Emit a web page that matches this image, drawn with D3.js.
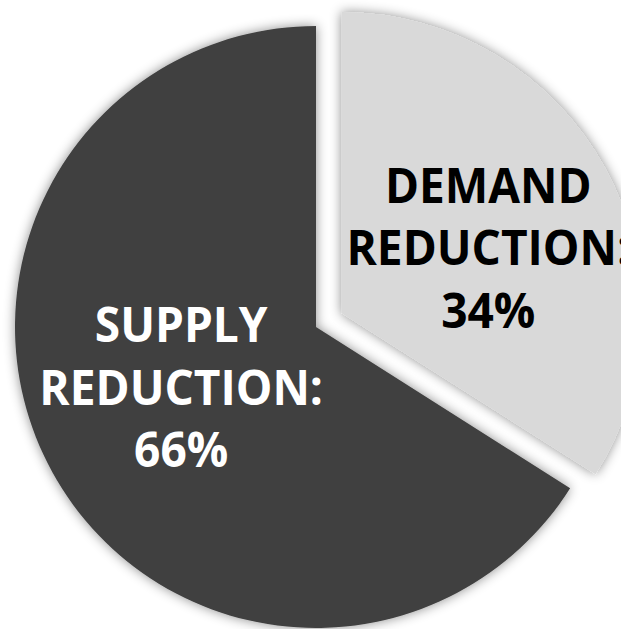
<!DOCTYPE html>
<html>
<head>
<meta charset="utf-8">
<script src="https://cdn.jsdelivr.net/npm/d3@7"></script>
<style>
  body { margin: 0; background: #fff; }
  text { font-family: "Open Sans", sans-serif; font-weight: bold; }
</style>
</head>
<body>
<div class="chart"></div>
<script>
// data
var categories = ["DEMAND REDUCTION:", "SUPPLY REDUCTION:"];
var shares = [34, 66];
var labelLines = [["DEMAND", "REDUCTION:", "34%"], ["SUPPLY", "REDUCTION:", "66%"]];

var width = 621, height = 629;
var cx = 316, cy = 327, radius = 301;
var explode = 29;

var svg = d3.select(".chart")
  .append("svg")
  .attr("width", width)
  .attr("height", height);

// soft outer shadow like the office one
var defs = svg.append("defs");
var f = defs.append("filter").attr("id", "shadow")
  .attr("x", "-20%").attr("y", "-20%").attr("width", "140%").attr("height", "140%");
f.append("feDropShadow")
  .attr("dx", 0).attr("dy", 0)
  .attr("stdDeviation", 6)
  .attr("flood-color", "#000")
  .attr("flood-opacity", 0.45);

var pie = d3.pie().sort(null).value(function(d) { return d; });
var arcs = pie(shares);

var arc = d3.arc().innerRadius(0).outerRadius(radius);
var labelArc = d3.arc().innerRadius(155).outerRadius(155);

var colors = ["#d9d9d9", "#404040"];
var textColors = ["#000", "#fff"];
var exploded = [true, false];
// small label nudges, excel doesn't put them exactly on the bisector
var nudge = [[11, 10], [1, -14]];

var g = svg.append("g").attr("transform", "translate(" + cx + "," + cy + ")");

// draw dark one first so the exploded slice sits on top
var order = [1, 0];
order.forEach(function(i) {
  var a = arcs[i];
  var mid = (a.startAngle + a.endAngle) / 2;
  var off = exploded[i] ? explode : 0;
  var dx = Math.sin(mid) * off, dy = -Math.cos(mid) * off;

  var slice = g.append("g").attr("transform", "translate(" + dx + "," + dy + ")");
  slice.append("path")
    .attr("d", arc(a))
    .attr("fill", colors[i])
    .attr("filter", "url(#shadow)");

  var c = labelArc.centroid(a);
  var tx = c[0] + nudge[i][0], ty = c[1] + nudge[i][1];
  var lineH = 62.5;
  // squeeze a little horizontally, the original font is narrower
  var t = slice.append("g")
    .attr("transform", "translate(" + tx + "," + ty + ") scale(0.96,1)")
    .append("text")
    .attr("text-anchor", "middle")
    .attr("fill", textColors[i])
    .style("font-size", "48px");
  labelLines[i].forEach(function(line, k) {
    t.append("tspan")
      .attr("x", 0)
      .attr("y", (k - 1) * lineH + 17)
      .text(line);
  });
});
</script>
</body>
</html>
